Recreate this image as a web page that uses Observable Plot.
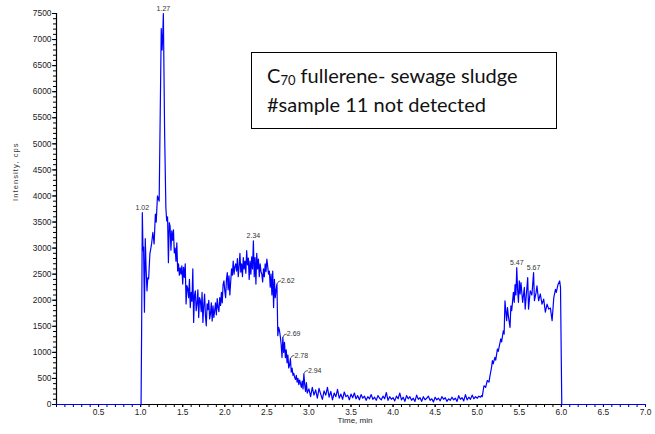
<!DOCTYPE html>
<html>
<head>
<meta charset="utf-8">
<script src="https://cdn.jsdelivr.net/npm/d3@7"></script>
<script src="https://cdn.jsdelivr.net/npm/@observablehq/plot@0.6"></script>
<style>
  body { margin: 0; background: #fff; }
  #wrap { position: relative; width: 655px; height: 434px; }
  #note {
    position: absolute; left: 251px; top: 52px; width: 306px; height: 77px;
    box-sizing: border-box; border: 1px solid #000; background: #fff;
    font-family: Lato, "Open Sans", sans-serif; font-size: 20px; color: #111;
    padding: 8px 0 0 15px; line-height: 29px; white-space: nowrap;
  }
  #note sub { font-size: 13px; vertical-align: -2px; line-height: 0; }
</style>
</head>
<body>
<div id="wrap">
  <div id="chart"></div>
  <div id="note">C<sub>70</sub> fullerene- sewage sludge<br>#sample 11 not detected</div>
</div>
<script>
// Retention time (min) and intensity (cps)
const time = [
  0, 0.99, 1.005, 1.012, 1.02, 1.028, 1.035, 1.045, 1.055, 1.065, 1.075, 1.085, 1.095, 1.11, 1.13, 1.145, 1.16, 1.175, 1.185, 1.20,
  1.22, 1.245, 1.255, 1.262, 1.27, 1.285, 1.30, 1.31, 1.32, 1.33, 1.34, 1.35, 1.36, 1.37, 1.38, 1.39, 1.40, 1.41, 1.42,
  1.43, 1.44, 1.45, 1.46, 1.47, 1.48, 1.49, 1.50, 1.51, 1.52, 1.53, 1.54, 1.55, 1.56, 1.57, 1.58, 1.59, 1.60, 1.61, 1.62,
  1.63, 1.64, 1.65, 1.66, 1.67, 1.68, 1.69, 1.70, 1.71, 1.72, 1.73, 1.74, 1.75, 1.76, 1.77, 1.78, 1.79, 1.80, 1.81, 1.82,
  1.83, 1.84, 1.85, 1.86, 1.87, 1.88, 1.89, 1.90, 1.91, 1.92, 1.93, 1.94, 1.95, 1.96, 1.97, 1.98, 1.99, 2.00, 2.01, 2.02,
  2.03, 2.04, 2.05, 2.06, 2.07, 2.08, 2.09, 2.10, 2.11, 2.12, 2.13, 2.14, 2.15, 2.16, 2.17, 2.18, 2.19, 2.20, 2.21, 2.22,
  2.23, 2.24, 2.25, 2.26, 2.27, 2.28, 2.29, 2.30, 2.31, 2.32, 2.33, 2.34, 2.35, 2.36, 2.37, 2.38, 2.39, 2.40, 2.41, 2.42,
  2.43, 2.44, 2.45, 2.46, 2.47, 2.48, 2.49, 2.50, 2.51, 2.52, 2.53, 2.54, 2.55, 2.56, 2.57, 2.58, 2.59, 2.60, 2.61, 2.62,
  2.63, 2.64, 2.65, 2.66, 2.67, 2.68, 2.69, 2.70, 2.71, 2.72, 2.73, 2.74, 2.75, 2.76, 2.77, 2.78, 2.79, 2.80, 2.81, 2.82,
  2.83, 2.84, 2.85, 2.86, 2.87, 2.88, 2.89, 2.90, 2.91, 2.92, 2.93, 2.94, 2.95, 2.96, 2.97, 2.98, 3.00, 3.02, 3.04, 3.06,
  3.08, 3.10, 3.12, 3.14, 3.16, 3.18, 3.20, 3.22, 3.24, 3.26, 3.28, 3.30, 3.32, 3.34, 3.36, 3.38, 3.40, 3.42, 3.44, 3.46,
  3.48, 3.50, 3.52, 3.54, 3.56, 3.58, 3.60, 3.62, 3.64, 3.66, 3.68, 3.70, 3.72, 3.74, 3.76, 3.78, 3.80, 3.82, 3.84, 3.86,
  3.88, 3.90, 3.92, 3.94, 3.96, 3.98, 4.00, 4.02, 4.04, 4.06, 4.08, 4.10, 4.12, 4.14, 4.16, 4.18, 4.20, 4.22, 4.24, 4.26,
  4.28, 4.30, 4.32, 4.34, 4.36, 4.38, 4.40, 4.42, 4.44, 4.46, 4.48, 4.50, 4.52, 4.54, 4.56, 4.58, 4.60, 4.62, 4.64, 4.66,
  4.68, 4.70, 4.72, 4.74, 4.76, 4.78, 4.80, 4.82, 4.84, 4.86, 4.88, 4.90, 4.92, 4.94, 4.96, 4.98, 5.00, 5.02, 5.04, 5.05,
  5.06, 5.08, 5.10, 5.12, 5.14, 5.15, 5.17, 5.18, 5.19, 5.21, 5.22, 5.24, 5.25, 5.26, 5.28, 5.29, 5.31, 5.32, 5.33, 5.35,
  5.36, 5.37, 5.39, 5.40, 5.41, 5.43, 5.44, 5.45, 5.46, 5.47, 5.48, 5.49, 5.50, 5.51, 5.52, 5.54, 5.56, 5.57, 5.60, 5.61,
  5.63, 5.65, 5.67, 5.68, 5.70, 5.71, 5.73, 5.75, 5.77, 5.79, 5.81, 5.83, 5.85, 5.87, 5.89, 5.91, 5.93, 5.94, 5.96, 5.98,
  5.99, 6.005, 7.0
];
const intensity = [
  0, 0, 0, 1500, 3680, 2950, 3020, 1770, 3180, 2600, 2180, 2430, 2410, 2890, 3080, 3300, 3080, 3650, 3500, 4000,
  3900, 7210, 6800, 7050, 7500, 5200, 3770, 3520, 3600, 2720, 3490, 3420, 2960, 3330, 3150, 3350, 2910, 3000, 2750,
  3100, 2560, 2700, 2480, 2620, 2500, 2660, 2310, 2630, 2440, 2700, 1930, 2280, 2220, 2050, 2400, 1860, 2150, 1980, 2600,
  1575, 2100, 2180, 1800, 1930, 2200, 1670, 2050, 1990, 1780, 2150, 1575, 1900, 2120, 1700, 1510, 1930, 1820, 2000, 1640,
  1740, 1950, 1600, 1890, 1670, 1800, 1950, 1720, 2030, 1860, 1780, 2050, 1900, 2150, 1950, 2300, 2370, 2180, 2050, 2400,
  2530, 2200, 2470, 2100, 2350, 2600, 2480, 2750, 2500, 2640, 2700, 2560, 2800, 2450, 2650, 2900, 2540, 2700, 2450, 2820,
  2600, 2750, 2520, 2950, 2680, 2810, 2400, 2750, 2500, 2830, 2600, 3140, 2450, 2820, 2310, 2900, 2600, 2790, 2450, 2700,
  2550, 2500, 2350, 2600, 2450, 2700, 2550, 2790, 2650, 2500, 2560, 2250, 2500, 2100, 2560, 1860, 2400, 2050, 2200, 2310,
  1320, 1480, 1420, 1300, 1150, 900, 1290, 1000, 1190, 900, 1050, 800, 950, 700, 760, 880, 620, 700, 560, 600,
  520, 480, 560, 430, 500, 380, 470, 400, 330, 450, 300, 590, 380, 250, 420, 220, 300, 150, 330, 180,
  280, 120, 310, 200, 100, 260, 180, 330, 140, 250, 90, 220, 150, 290, 120, 200, 100, 240, 150, 180,
  90, 200, 130, 220, 110, 170, 90, 190, 120, 160, 80, 150, 110, 190, 100, 140, 80, 170, 120, 90,
  160, 110, 230, 80, 150, 100, 130, 70, 160, 110, 220, 90, 140, 60, 170, 110, 150, 80, 120, 60,
  180, 100, 130, 60, 150, 90, 120, 160, 80, 110, 50, 140, 90, 120, 70, 150, 100, 130, 60, 110,
  80, 140, 90, 120, 60, 170, 100, 130, 70, 190, 90, 140, 100, 180, 110, 150, 120, 160, 140, 170,
  150, 360, 330, 460, 430, 535, 710, 840, 780, 905, 850, 1065, 1020, 1100, 1260, 1200, 1415, 1350, 1990, 1607,
  1860, 1700, 1480, 1890, 1800, 2150, 1960, 2300, 2100, 2625, 2200, 1960, 2370, 2120, 2340, 1960, 2245, 1830, 2435, 1830,
  2180, 2100, 2530, 1990, 2150, 2275, 1990, 2120, 1925, 2020, 1770, 1925, 1830, 1850, 1607, 2050, 2210, 2150, 2300, 2370,
  2245, 0, 0
];
// Labelled peak apexes (min)
const peaksAbove = [1.02, 1.27, 2.34, 5.47, 5.67];
const peaksSide = [2.62, 2.69, 2.78, 2.94];
// Axis ticks
const yTicks = d3.range(0, 7501, 500);
const yMinor = d3.range(0, 7501, 100);
const xTicks = d3.range(0.5, 7.001, 0.5);
const xMinor = d3.range(0, 7.001, 0.1);

const data = time.map((t, i) => ({t, v: intensity[i]}));
const at = (p) => data[d3.minIndex(data, d => Math.abs(d.t - p))];
const above = peaksAbove.map(at).map((d, i) => ({...d, label: peaksAbove[i].toFixed(2)}));
const side = peaksSide.map(at).map((d, i) => ({...d, label: peaksSide[i].toFixed(2)}));

const leader = {draw(ctx) { ctx.moveTo(0, 0); ctx.lineTo(1.5, -2.5); ctx.lineTo(4, -3.2); }};

const tickFont = "'Liberation Sans', Arial, sans-serif";
const chart = Plot.plot({
  width: 655, height: 434,
  marginLeft: 56, marginRight: 10, marginTop: 13, marginBottom: 30,
  style: {fontFamily: tickFont, background: "white", overflow: "visible"},
  x: {domain: [0, 7], axis: null},
  y: {domain: [0, 7500], axis: null},
  marks: [
    Plot.axisY(yMinor, {tickSize: 3, text: null, label: null, stroke: "#000"}),
    Plot.axisY(yTicks, {tickSize: 4, tickPadding: 1, fontSize: 8.4, label: null, fill: "#222", stroke: "#000", tickFormat: d => String(d)}),
    Plot.axisX(xMinor, {tickSize: 3, text: null, label: null, stroke: "#000"}),
    Plot.axisX(xTicks, {tickSize: 3, tickPadding: 2, fontSize: 8.4, label: null, fill: "#222", stroke: "#000", tickFormat: d => d.toFixed(1)}),
    Plot.ruleX([0], {stroke: "#000", strokeWidth: 1.2}),
    Plot.ruleY([0], {stroke: "#000", strokeWidth: 1.2}),
    Plot.line(data, {x: "t", y: "v", stroke: "#0000ff", strokeWidth: 1.2}),
    Plot.text(above, {x: "t", y: "v", text: "label", dy: -5, fontSize: 7, fill: "#333"}),
    Plot.dot(side, {x: "t", y: "v", symbol: leader, r: 3, stroke: "#333", fill: "none", strokeWidth: 0.8}),
    Plot.text(side, {x: "t", y: "v", text: "label", textAnchor: "start", dx: 4, dy: -3, fontSize: 7, fill: "#333"}),
    Plot.text(["Intensity, cps"], {frameAnchor: "left", rotate: -90, dx: -41, dy: -8, fontSize: 7.5, fill: "#333"}),
    Plot.text(["Time, min"], {frameAnchor: "bottom", dx: 4, dy: 18.5, fontSize: 8, fill: "#222"})
  ]
});
d3.select(chart).selectAll("text").filter(function() { return this.textContent === "Intensity, cps"; })
  .attr("letter-spacing", "1.1px");
document.getElementById("chart").appendChild(chart);
</script>
</body>
</html>
